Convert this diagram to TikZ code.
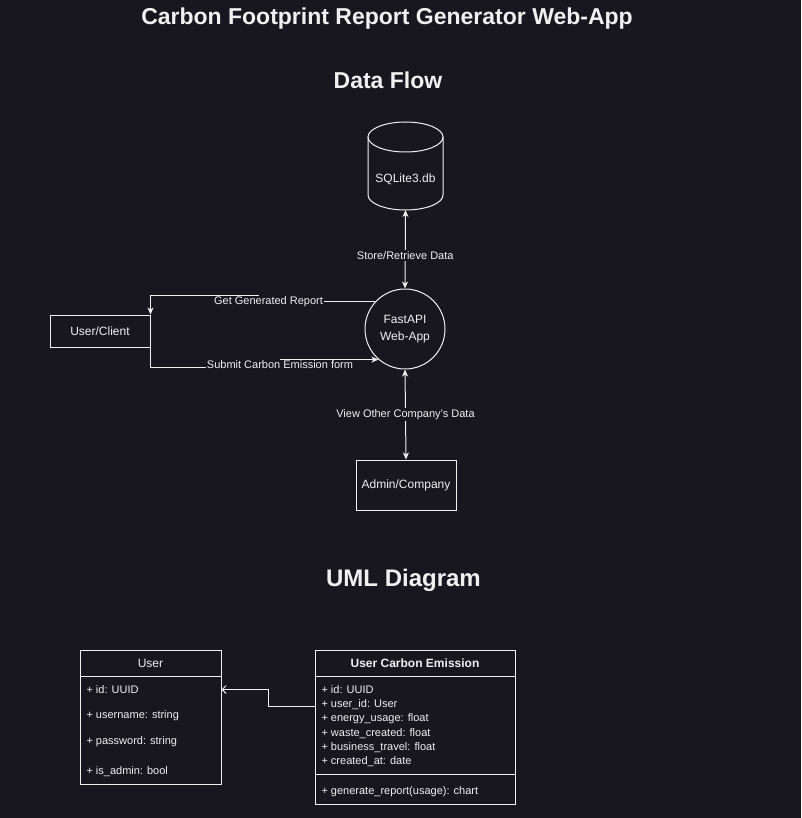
\documentclass[tikz,border=0pt]{standalone}
\usepackage{fontspec}
\setmainfont{Liberation Sans}
\usetikzlibrary{arrows.meta}
\definecolor{canvas}{RGB}{24,22,31}
\definecolor{ink}{RGB}{240,240,240}

\begin{document}
\begin{tikzpicture}[x=1pt, y=-1pt, line width=1pt, draw=ink,
  every node/.style={text=ink, font=\fontsize{12}{17}\selectfont},
  heading/.style={font=\bfseries\fontsize{23}{27}\selectfont},
  box/.style={draw=ink, rectangle, fill=canvas, inner sep=0pt},
  edgelabel/.style={fill=canvas, inner sep=1pt, font=\fontsize{11}{13}\selectfont},
  attr/.style={anchor=west, inner sep=0pt, font=\fontsize{11}{13}\selectfont},
  flow/.style={{Stealth[length=7pt,width=6pt,inset=2pt]}-{Stealth[length=7pt,width=6pt,inset=2pt]}},
  toarrow/.style={-{Stealth[length=7pt,width=6pt,inset=2pt]}},
  umlarrow/.style={-{Straight Barb[length=4pt,width=8pt]}}]
% Background
\fill[canvas] (0,0) rectangle (801,818);

% Titles
\node[heading] (title) at (387,19) {Carbon Footprint Report Generator Web-App};
\node[heading] (flowtitle) at (388,80) {Data Flow};
\node[heading, font=\bfseries\fontsize{24}{28}\selectfont] (umltitle) at (403.5,580) {UML Diagram};

% Database
\filldraw[fill=canvas] (368,137) -- (368,195) arc[start angle=180, end angle=0, x radius=37.5, y radius=15] -- (443,137);
\draw (405.5,137) ellipse[x radius=37.5, y radius=15];
\coordinate (dbbottom) at (405.5,210);
\node (db) at (405.5,179) {SQLite3.db};

% Boxes
\node[draw=ink, circle, fill=canvas, minimum size=80pt, inner sep=0pt, align=center] (app) at (405,329) {FastAPI\\Web-App};
\node[box, minimum width=100pt, minimum height=32pt] (client) at (100,331) {User/Client};
\node[box, minimum width=100pt, minimum height=50pt] (admin) at (406,485) {Admin/Company};

% Arrows
\draw[flow] (dbbottom) -- node[edgelabel, pos=0.58] (storelabel) {Store/Retrieve Data} (app.north);
\draw[flow] (app.south) -- node[edgelabel, pos=0.5] (viewlabel) {View Other Company's Data} (admin.north);
\draw[toarrow] (app.137.5) -| (258,295) -| (client.north east);
\node[edgelabel] (reportlabel) at (268.5,302) {Get Generated Report};
\draw[toarrow] (client.south east) |- (280,367) |- (app.229.9);
\node[edgelabel] (submitlabel) at (280,365) {Submit Carbon Emission form};

% UML classes
\node[box, minimum width=141pt, minimum height=134pt] (user) at (150.5,717) {};
\coordinate (userhead) at (150.5,676);
\draw (user.west |- userhead) -- (user.east |- userhead);
\node[font=\fontsize{12}{14}\selectfont] (usertitle) at (150.5,663) {User};
\node[attr] (uid) at (86,689.5) {+ id: UUID};
\node[attr] (uname) at (86,716) {+ username: string};
\node[attr] (upass) at (86,742) {+ password: string};
\node[attr] (uadmin) at (86,772) {+ is\_admin: bool};

\node[box, minimum width=200pt, minimum height=154pt] (uce) at (415,727) {};
\coordinate (ucehead) at (415,676);
\coordinate (ucemethods) at (415,774);
\draw (uce.west |- ucehead) -- (uce.east |- ucehead);
\draw (uce.west |- ucemethods) -- (uce.east |- ucemethods);
\node[font=\bfseries\fontsize{12}{14}\selectfont] (ucetitle) at (415,663) {User Carbon Emission};
\foreach \field [count=\i from 0] in {{+ id: UUID}, {+ user\_id: User}, {+ energy\_usage: float}, {+ waste\_created: float}, {+ business\_travel: float}, {+ created\_at: date}}
  \node[attr] (ucefield\i) at (321,690+14.4*\i) {\field};
\node[attr] (ucemethod) at (321,792) {+ generate\_report(usage): chart};

% Association
\coordinate (ucelink) at (315,706);
\draw[umlarrow] (ucelink) -| (268,689.5) -- (user.east |- uid);
\end{tikzpicture}
\end{document}
